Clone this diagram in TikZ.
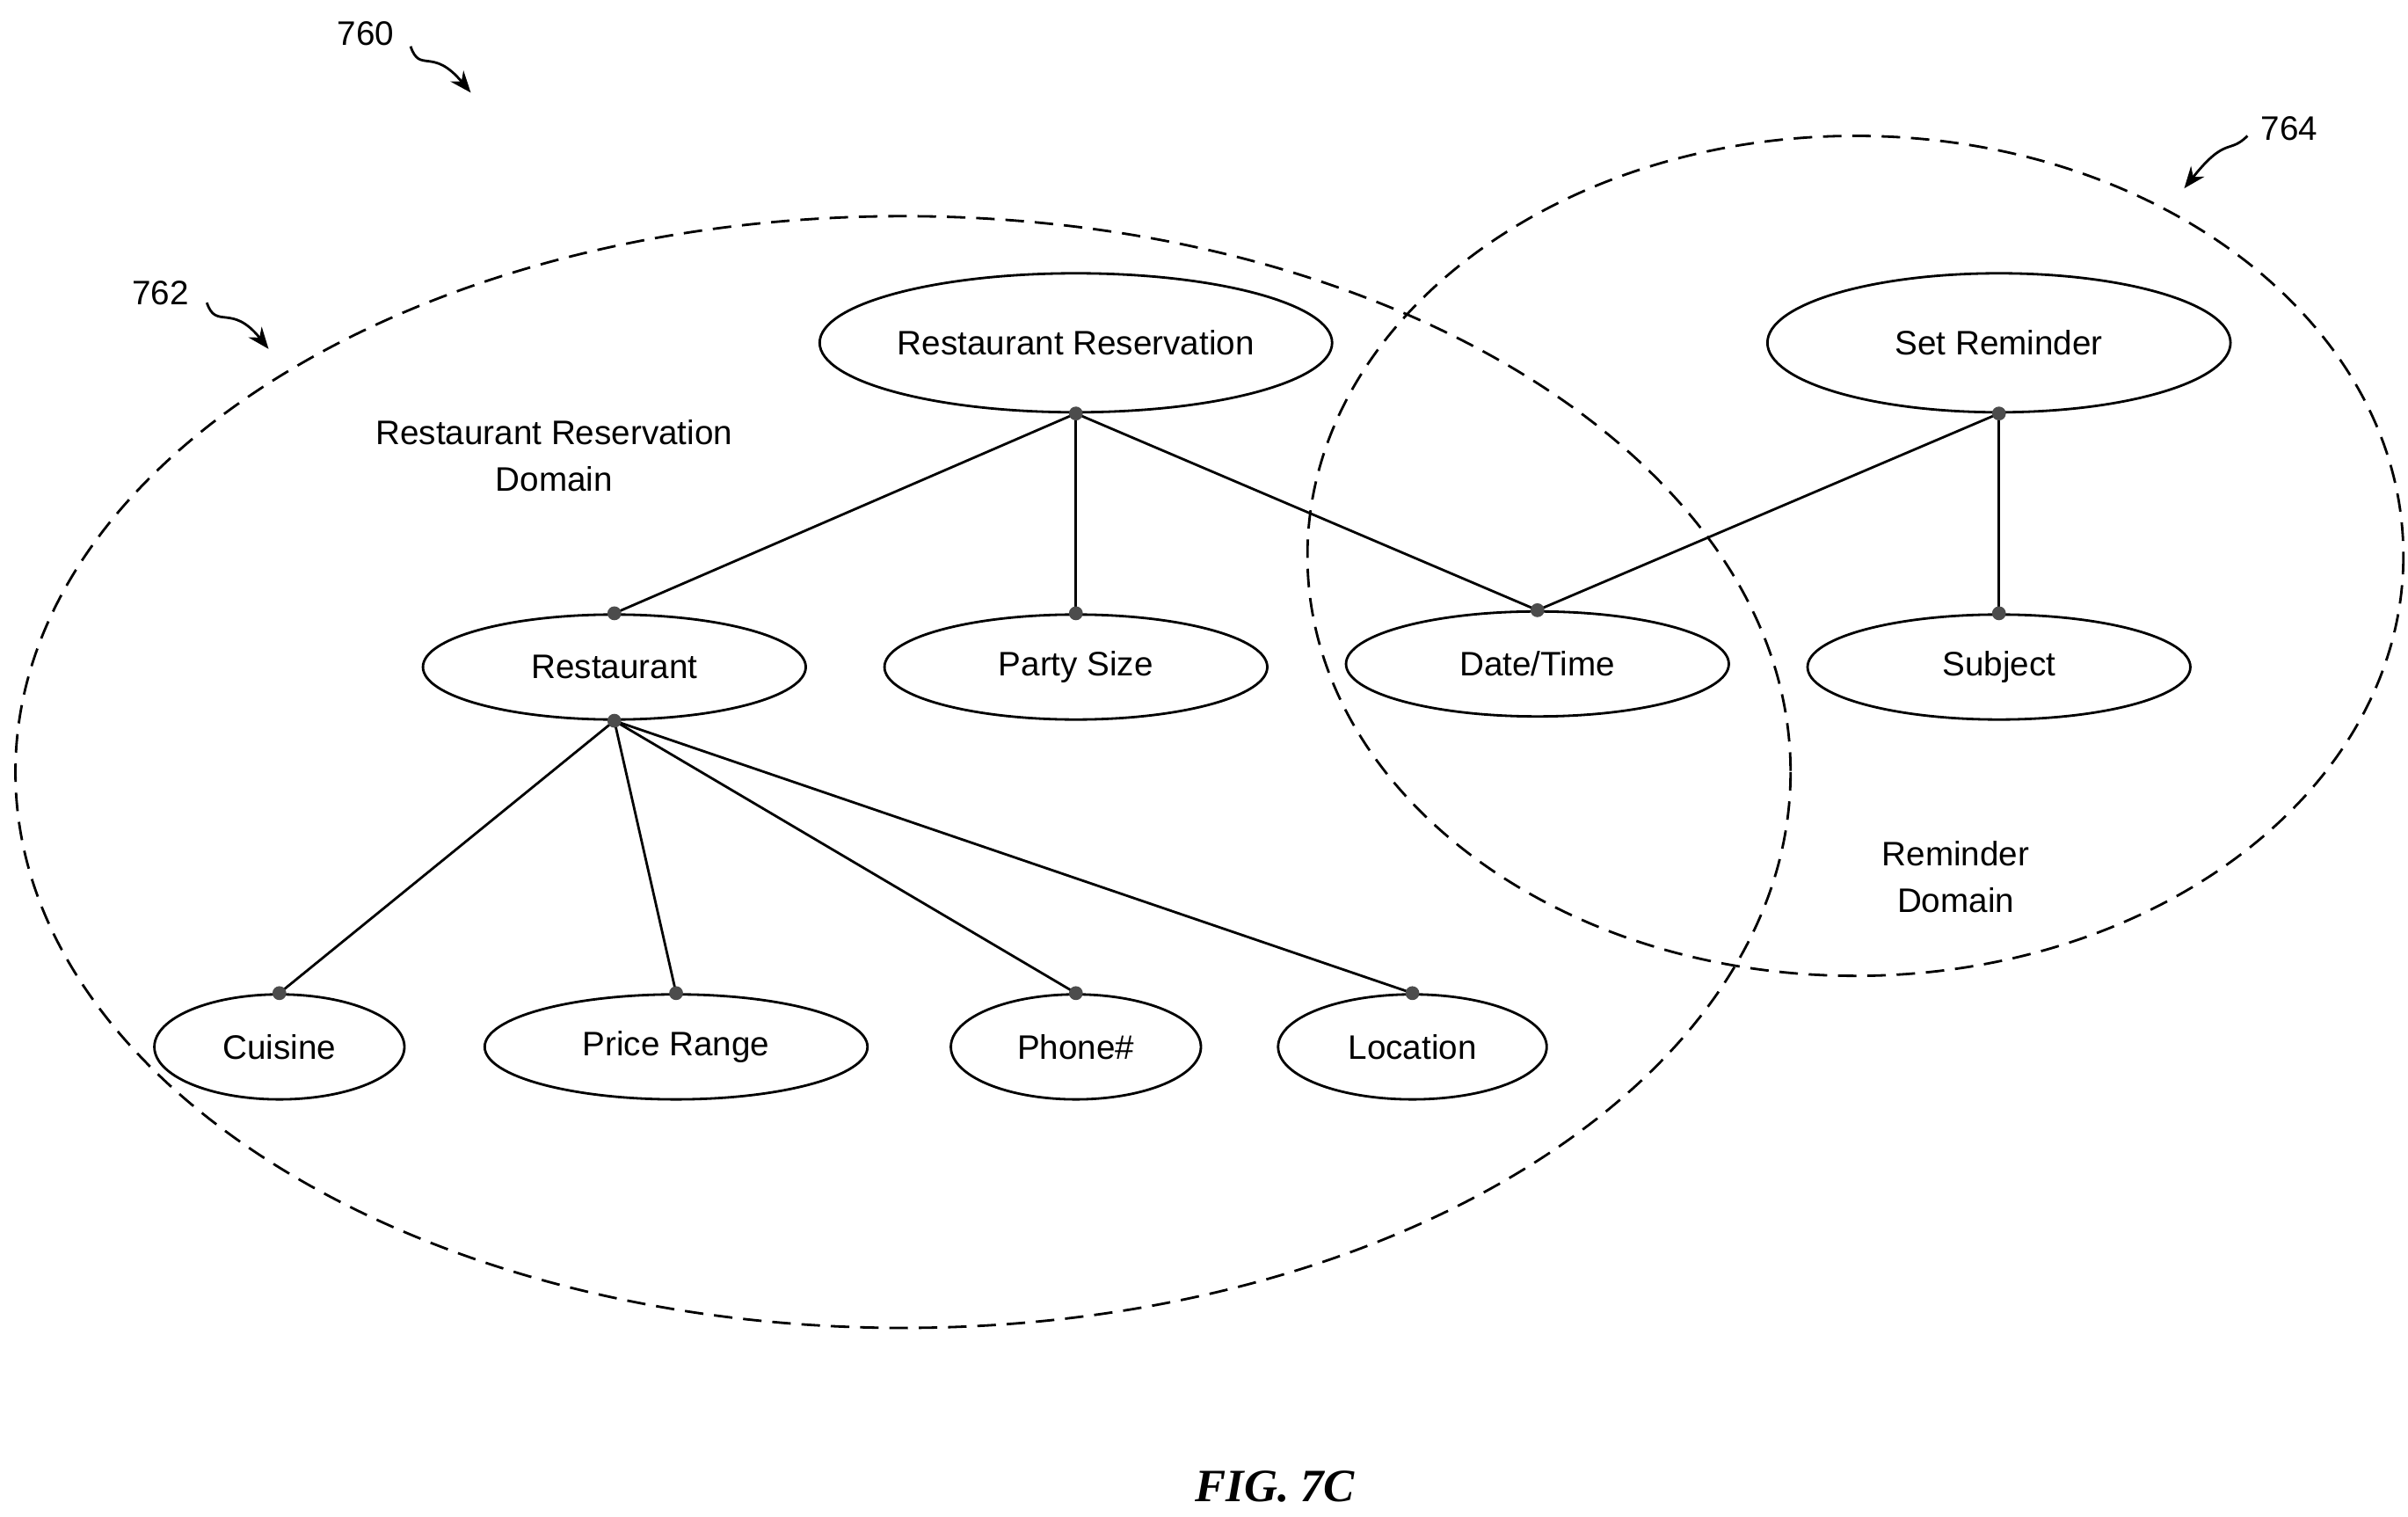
\documentclass[tikz,border=0pt]{standalone}
\usepackage{fontspec}
\setmainfont{Liberation Sans}
\newfontfamily\figfont{Liberation Serif}
\usetikzlibrary{shapes.geometric,arrows.meta}
\begin{document}
\begin{tikzpicture}[x=1pt,y=-1pt,
  el/.style={draw,ellipse,line width=1.6pt,inner sep=0pt,font=\fontsize{22}{26}\selectfont},
  dom/.style={draw,dashed,line width=1.6pt,dash pattern=on 12pt off 7pt},
  ln/.style={line width=1.6pt},
  dot/.style={circle,fill=black!70,inner sep=0pt,minimum size=9pt},
  lbl/.style={font=\fontsize{22}{30}\selectfont,align=center},
  sq/.style={line width=1.6pt,-{Stealth[length=14pt,width=11pt]}}]
\useasboundingbox (0,0) rectangle (1560,982);
\draw[dom] (585,500) ellipse [x radius=575,y radius=360];
\draw[dom] (1202,360) ellipse [x radius=355,y radius=272];
\node[el,minimum width=332pt,minimum height=90pt] (rr) at (697,222) {Restaurant Reservation};
\node[el,minimum width=300pt,minimum height=90pt] (sr) at (1295,222) {Set Reminder};
\node[el,minimum width=248pt,minimum height=68pt] (re) at (398,432) {Restaurant};
\node[el,minimum width=248pt,minimum height=68pt] (ps) at (697,432) {Party Size};
\node[el,minimum width=248pt,minimum height=68pt] (dt) at (996,430) {Date/Time};
\node[el,minimum width=248pt,minimum height=68pt] (su) at (1295,432) {Subject};
\node[el,minimum width=162pt,minimum height=68pt] (cu) at (181,678) {Cuisine};
\node[el,minimum width=248pt,minimum height=68pt] (pr) at (438,678) {Price Range};
\node[el,minimum width=162pt,minimum height=68pt] (ph) at (697,678) {Phone\#};
\node[el,minimum width=174pt,minimum height=68pt] (lo) at (915,678) {Location};
\foreach \a/\b in {rr/re,rr/ps,rr/dt,sr/dt,sr/su,re/cu,re/pr,re/ph,re/lo}
  \draw[ln] (\a.south) -- (\b.north);
\foreach \n in {rr,sr,re}
  \node[dot] at (\n.south) {};
\foreach \n in {re,ps,dt,su,cu,pr,ph,lo}
  \node[dot] at (\n.north) {};
\node[lbl] (l1) at (359,295) {Restaurant Reservation\\Domain};
\node[lbl] (l2) at (1267,568) {Reminder\\Domain};
\node[lbl] (n760) at (237,22) {760};
\node[lbl] (n762) at (104,190) {762};
\node[lbl] (n764) at (1483,83) {764};
\coordinate (a760) at (305,60);
\coordinate (a762) at (174,226);
\coordinate (a764) at (1415,122);
\draw[sq] (266,30) .. controls (272,48) and (280,30) .. (a760);
\draw[sq] (134,196) .. controls (140,214) and (150,196) .. (a762);
\draw[sq] (1456,88) .. controls (1444,100) and (1442,88) .. (a764);
\node[font=\figfont\bfseries\itshape\fontsize{30}{34}\selectfont] (fig) at (826,963) {FIG. 7C};
\end{tikzpicture}
\end{document}
